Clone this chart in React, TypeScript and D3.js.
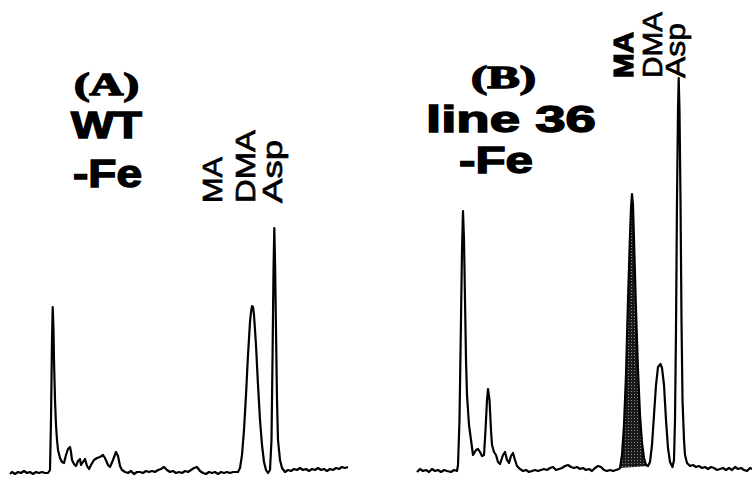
import React, { useEffect, useRef } from 'react';
import * as d3 from 'd3';

// chromatogram A: WT -Fe  [time, response]
const traceA: [number, number][] = [
  [0, -1], [2, 1], [5, -1], [8, 1], [11, 0], [14, 2], [17, 0], [20, 1], [23, -1], [26, 1], [29, 0], [32, 1], [35, 0], [38, 0],
  [40, 3], [41, 53], [42, 133], [42.7, 166], [43.5, 143], [44, 113], [45, 73], [46, 48], [47, 33], [48, 23], [50, 15], [52, 11], [54, 10],
  [56, 18], [58, 24], [60, 26], [61, 21], [62, 13], [64, 9], [66, 7], [68, 12], [70, 14], [71, 8], [73, 11], [75, 14], [77, 7], [79, 4],
  [81, 8], [84, 13], [87, 15], [90, 16], [93, 18], [95, 15], [98, 8], [100, 6], [103, 13], [106, 21], [108, 17], [110, 7], [112, 3], [115, 1],
  [118, 0], [121, 2], [124, -1], [127, 1], [130, 1], [133, 0], [136, 2], [139, 1], [142, 2], [145, 1], [148, 3], [151, 4], [154, 6], [157, 3],
  [160, 1], [163, 2], [166, 0], [169, 1], [172, 0], [175, 2], [178, 1], [181, 3], [184, 5], [187, 6], [190, 2], [193, 0], [196, -1], [199, 1],
  [202, 0], [205, 1], [208, -1], [211, 1], [214, 0], [217, 1], [220, 0], [223, 1], [226, 1],
  [228, 1], [230, 5], [232, 18], [234, 43], [236, 78], [238, 118], [240, 151], [241, 161], [242, 167], [243, 166], [244, 158], [246, 128],
  [248, 88], [250, 53], [252, 28], [254, 11], [256, 3], [258, 0],
  [260, 3], [261.5, 33], [262.5, 113], [263.5, 203], [264.3, 245], [265, 213], [266, 143], [267, 73], [268, 33], [270, 13], [272, 5],
  [275, 1], [278, 3], [281, 2], [284, 4], [287, 3], [290, 5], [293, 3], [296, 4], [299, 2], [302, 4], [305, 3], [308, 5], [311, 3],
  [314, 4], [317, 2], [320, 4], [323, 3], [326, 5], [329, 4], [332, 6], [335, 5], [338, 6],
];

// chromatogram B: line 36 -Fe  [time, response]
const traceB: [number, number][] = [
  [0, -2], [3, 1], [6, -1], [9, 0], [12, -2], [15, 1], [18, -1], [21, 0], [24, -2], [27, 0], [30, -1], [34, -2], [37, 0], [40, -1],
  [41, 5], [42.5, 50], [44, 150], [45, 220], [46, 259], [47, 230], [48, 170], [49, 110], [50, 75], [51, 60], [52, 45], [54, 30], [56, 15],
  [59, 20], [61, 21], [63, 18], [65, 14], [67, 15], [68.5, 40], [70, 70], [71, 81], [72.5, 70], [74, 40], [75, 25], [77, 18], [79, 15],
  [81, 8], [83, 6], [86, 15], [88, 18], [90, 10], [92, 7], [94, 14], [96, 17], [98, 10], [100, 4], [103, 1], [106, -1], [109, 0],
  [112, -2], [115, -1], [118, 0], [121, -1], [124, 0], [127, 1], [130, 0], [133, 2], [136, 3], [139, 0], [142, 1], [145, 2], [148, 4],
  [151, 5], [154, 3], [157, 2], [160, 3], [163, 1], [166, 2], [169, 0], [172, 1], [175, -1], [178, 2], [181, 4], [184, 3], [187, 0],
  [190, -1], [193, 0], [196, -1], [199, 0], [202, 1],
  [203, 2], [205, 15], [207, 45], [209, 95], [211, 170], [213, 235], [214, 262], [215, 276], [216, 265], [217, 230], [219, 160],
  [221, 100], [223, 55], [225, 27], [227, 12], [229, 5], [231, 4],
  [233, 8], [235, 25], [237, 55], [239, 85], [241, 103], [243.5, 106], [245, 102], [247, 85], [249, 50], [251, 22], [253, 8], [255.5, 3],
  [257, 10], [258, 50], [259, 140], [260, 270], [261, 360], [261.7, 392], [262.5, 360], [263.5, 270], [264.5, 150], [265.5, 70],
  [267, 30], [268, 15], [270, 7], [273, 4], [276, 5], [279, 3], [282, 4], [285, 2], [288, 3], [291, 1], [294, 3], [297, 2], [300, 0],
  [303, 1], [306, 2], [309, 0], [312, 2], [315, 0], [318, 3], [321, 1], [324, 2], [327, 0], [330, -1], [333, 2], [335, 1],
];

// MA peak shaded in B
const maRangeB: [number, number] = [203, 231];

const peakLabelsA = ['MA', 'DMA', 'Asp'];
const peakLabelsB = ['MA', 'DMA', 'Asp'];

export default function App() {
  const svgRef = useRef<SVGSVGElement>(null);

  useEffect(() => {
    const svg = d3.select(svgRef.current);
    svg.selectAll('*').remove();

    const sans = 'Liberation Sans, Arial, sans-serif';
    const serif = 'Liberation Serif, Times New Roman, serif';

    const xA = d3.scaleLinear().domain([0, 338]).range([10, 348]);
    const yA = d3.scaleLinear().domain([0, 250]).range([473, 223]);
    const xB = d3.scaleLinear().domain([0, 335]).range([417, 752]);
    const yB = d3.scaleLinear().domain([0, 400]).range([470, 70]);

    // stipple pattern for the shaded peak
    const defs = svg.append('defs');
    const pat = defs.append('pattern')
      .attr('id', 'stipple')
      .attr('width', 3).attr('height', 3)
      .attr('patternUnits', 'userSpaceOnUse');
    pat.append('rect').attr('width', 3).attr('height', 3).attr('fill', '#1a1a1a');
    pat.append('rect').attr('x', 1).attr('y', 1).attr('width', 1).attr('height', 1).attr('fill', '#8a8a8a');

    const lineA = d3.line<[number, number]>().x(d => xA(d[0])).y(d => yA(d[1]));
    const lineB = d3.line<[number, number]>().x(d => xB(d[0])).y(d => yB(d[1]));

    // shaded MA peak
    const maPts = traceB.filter(d => d[0] >= maRangeB[0] && d[0] <= maRangeB[1]);
    svg.append('path')
      .attr('d', lineB(maPts) + 'Z')
      .attr('fill', 'url(#stipple)')
      .attr('stroke', 'none');

    [lineA(traceA), lineB(traceB)].forEach(d => {
      svg.append('path')
        .attr('d', d)
        .attr('fill', 'none')
        .attr('stroke', '#000')
        .attr('stroke-width', 2.2)
        .attr('stroke-linejoin', 'round');
    });

    // panel titles
    const title = (txt: string, x: number, y: number, size: number, len: number, font: string) =>
      svg.append('text')
        .attr('x', x).attr('y', y)
        .attr('font-family', font)
        .attr('font-weight', 'bold')
        .attr('font-size', size)
        .attr('stroke', '#000')
        .attr('stroke-width', 1.4)
        .attr('textLength', len)
        .attr('lengthAdjust', 'spacingAndGlyphs')
        .text(txt);

    title('(A)', 74, 95, 31, 65, serif);
    title('WT', 71, 138, 36, 71, sans);
    title('-Fe', 73, 187, 38, 69, sans);
    title('(B)', 471, 88, 31, 65, serif);
    title('line 36', 426, 132, 36, 170, sans);
    title('-Fe', 459, 173, 37, 74, sans);

    // rotated peak labels
    const vlabel = (txt: string, x: number, y: number, len: number, bold: boolean) =>
      svg.append('text')
        .attr('transform', `translate(${x},${y}) rotate(-90)`)
        .attr('font-family', sans)
        .attr('font-weight', bold ? 'bold' : 'normal')
        .attr('font-size', 27)
        .attr('stroke', '#000')
        .attr('stroke-width', bold ? 1.2 : 0.7)
        .attr('textLength', len)
        .attr('lengthAdjust', 'spacingAndGlyphs')
        .text(txt);

    vlabel(peakLabelsA[0], 222, 203, 46, false);
    vlabel(peakLabelsA[1], 255, 203, 73, false);
    vlabel(peakLabelsA[2], 282, 203, 63, false);
    vlabel(peakLabelsB[0], 633, 78, 46, true);
    vlabel(peakLabelsB[1], 662, 78, 66, false);
    vlabel(peakLabelsB[2], 685, 78, 55, false);

    return () => { svg.selectAll('*').remove(); };
  }, []);

  return (
    <svg ref={svgRef} width={752} height={485}
      style={{ position: 'absolute', left: 0, top: 0, background: '#fff' }} />
  );
}
